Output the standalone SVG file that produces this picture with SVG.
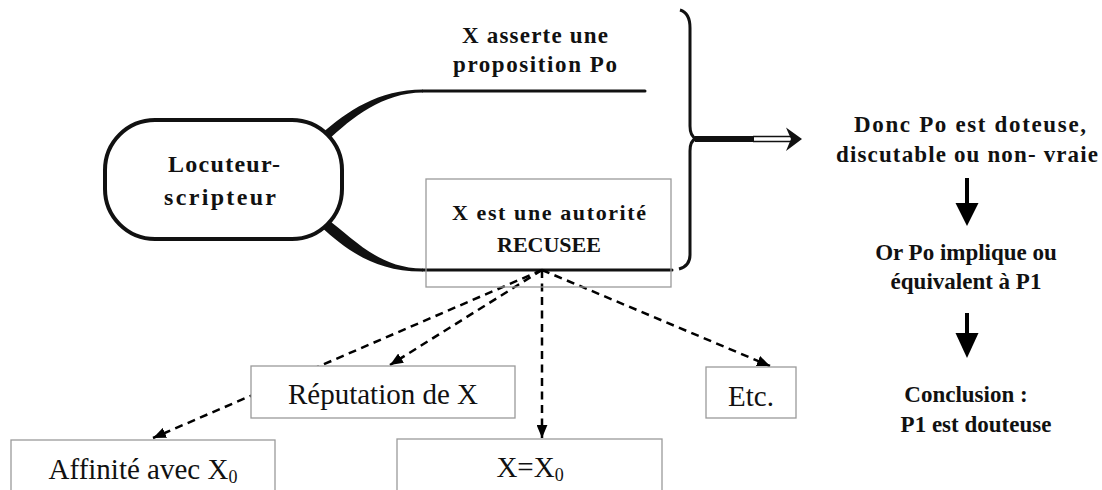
<svg xmlns="http://www.w3.org/2000/svg" width="1102" height="490" viewBox="0 0 1102 490">
<style>
  .bold { font-family: "Liberation Serif", "Times New Roman", serif; font-weight: bold; fill: #111; text-anchor: middle; }
  .reg { font-family: "Liberation Serif", "Times New Roman", serif; fill: #111; text-anchor: middle; font-size: 29px; }
  .box { fill: #fff; stroke: #9a9a9a; stroke-width: 1.3; }
  .dash { fill: none; stroke: #000; stroke-width: 2.5; stroke-dasharray: 8 5.5; marker-end: url(#ah); }
  .heavy { fill: none; stroke: #111; stroke-width: 3; stroke-linecap: round; }
</style>
<defs>
  <marker id="ah" viewBox="0 0 12 10" refX="12" refY="5" markerWidth="13" markerHeight="11" markerUnits="userSpaceOnUse" orient="auto">
    <path d="M0,0 L12,5 L0,10 z" fill="#000"/>
  </marker>
</defs>
<rect width="1102" height="490" fill="#fff"/>

<g id="connectors">
  <!-- branches from capsule -->
  <path d="M321,134 C348,111 378,89.5 423,89.5 L423,92.5 C382,93 353,117 327,141 Z" fill="#111"/>
  <line x1="423" y1="91" x2="645" y2="91" class="heavy"/>
  <path d="M327,219 C352,237 378,268.5 423,268.5 L423,271.5 C374,272 346,249 321,227 Z" fill="#111"/>
  <line x1="423" y1="270" x2="672" y2="270" class="heavy"/>
  <!-- brace -->
  <path d="M680,10 C687,12 690,18 690,28 L690,126 C690,133 692,137 696,138.5 C692,140 690,144 690,151 L690,255 C690,263 686,267 679,269" fill="none" stroke="#111" stroke-width="3"/>
  <!-- arrow from brace -->
  <line x1="695" y1="139" x2="754" y2="139" stroke="#111" stroke-width="6"/>
  <line x1="753" y1="136.5" x2="792" y2="136.5" stroke="#111" stroke-width="1.6"/>
  <line x1="753" y1="141.5" x2="792" y2="141.5" stroke="#111" stroke-width="1.6"/>
  <path d="M802,139 L786,127.5 L791,139 L786,151 Z" fill="#111"/>
  <!-- dashed arrows -->
  <line x1="542" y1="270" x2="390" y2="365" class="dash"/>
  <line x1="542" y1="270" x2="153" y2="438" class="dash"/>
  <line x1="542" y1="270" x2="542" y2="438" class="dash"/>
  <line x1="542" y1="270" x2="770" y2="366" class="dash"/>
  <!-- right column arrows -->
  <line x1="967" y1="178" x2="967" y2="206" stroke="#000" stroke-width="4"/>
  <path d="M955.5,203 L978.5,203 L967,226 Z" fill="#000"/>
  <line x1="967" y1="313" x2="967" y2="336" stroke="#000" stroke-width="4"/>
  <path d="M955.5,333 L978.5,333 L967,358 Z" fill="#000"/>
</g>

<g id="locuteur">
  <rect x="105" y="120" width="237" height="119" rx="50" ry="50" fill="#fff" stroke="#111" stroke-width="4"/>
  <text class="bold" x="224" y="172" font-size="24" textLength="112">Locuteur-</text>
  <text class="bold" x="220" y="205" font-size="24" textLength="112">scripteur</text>
</g>

<g id="asserte">
  <text class="bold" x="535" y="43" font-size="23" textLength="146">X asserte une</text>
  <text class="bold" x="535" y="72" font-size="23" textLength="164">proposition  Po</text>
</g>

<g id="recusee">
  <rect x="426" y="179" width="245" height="108" fill="none" stroke="#9a9a9a" stroke-width="1.3"/>
  <text class="bold" x="549" y="220" font-size="22" textLength="194">X est une autorité</text>
  <text class="bold" x="549" y="252" font-size="22">RECUSEE</text>
</g>

<g id="donc">
  <text class="bold" x="970" y="132" font-size="23" textLength="232">Donc Po est doteuse,</text>
  <text class="bold" x="967" y="162" font-size="23" textLength="262">discutable ou non- vraie</text>
</g>

<g id="or">
  <text class="bold" x="966" y="260" font-size="23">Or Po implique ou</text>
  <text class="bold" x="966" y="289" font-size="23">équivalent à  P1</text>
</g>

<g id="conclusion">
  <text class="bold" x="966" y="402" font-size="23">Conclusion :</text>
  <text class="bold" x="976" y="432" font-size="23">P1  est douteuse</text>
</g>

<g id="reputation">
  <rect class="box" x="251" y="366" width="264" height="52"/>
  <text class="reg" x="383" y="404">Réputation de X</text>
</g>

<g id="etc">
  <rect class="box" x="706" y="367" width="90" height="51"/>
  <text class="reg" x="751" y="406">Etc.</text>
</g>

<g id="affinite">
  <rect class="box" x="11" y="440" width="264" height="60"/>
  <text class="reg" x="143" y="479" font-size="28">Affinité avec X<tspan font-size="18" dy="4">0</tspan></text>
</g>

<g id="xx0">
  <rect class="box" x="397" y="439" width="265" height="61"/>
  <text class="reg" x="530" y="477" font-size="28">X=X<tspan font-size="18" dy="4">0</tspan></text>
</g>
</svg>
